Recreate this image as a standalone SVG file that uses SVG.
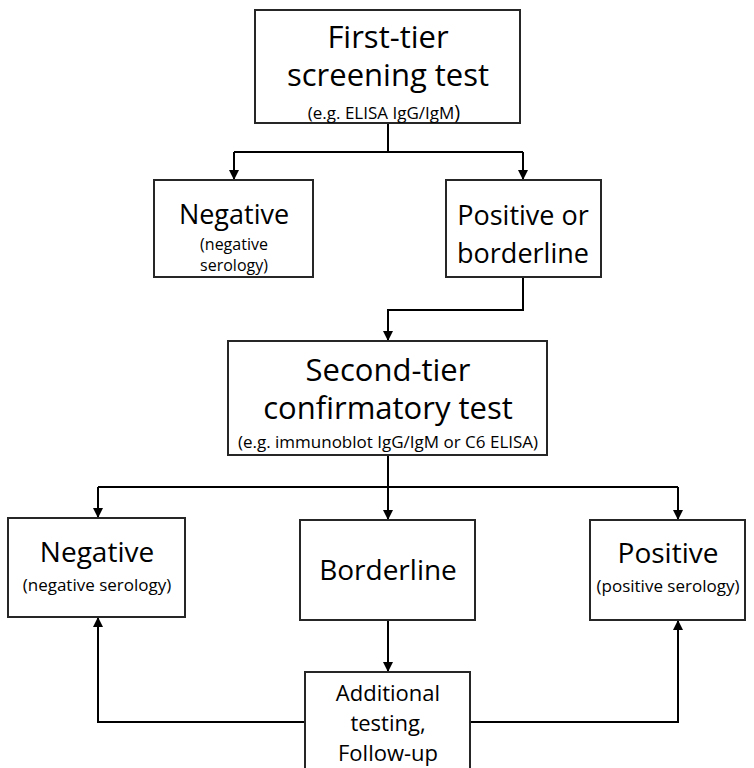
<svg xmlns="http://www.w3.org/2000/svg" width="754" height="768" viewBox="0 0 754 768">
<style>
.box{fill:#fff;stroke:#262626;stroke-width:2}
.t{font-family:"Open Sans","Noto Sans",sans-serif;fill:#000;text-anchor:middle}
.c{fill:none;stroke:#000;stroke-width:2}
</style>
<defs>
<marker id="ah" viewBox="0 0 10 10" refX="10" refY="5" markerWidth="5" markerHeight="5" orient="auto" markerUnits="strokeWidth">
<path d="M0,0 L10,5 L0,10 z" fill="#000"/>
</marker>
</defs>
<rect width="754" height="768" fill="#fff"/>
<g id="connectors">
<path class="c" d="M388,123 V152"/>
<path class="c" d="M234,152 H523"/>
<path class="c" d="M234,152 V180" marker-end="url(#ah)"/>
<path class="c" d="M523,152 V180" marker-end="url(#ah)"/>
<path class="c" d="M523,277 V310 H388 V341" marker-end="url(#ah)"/>
<path class="c" d="M388,455 V487"/>
<path class="c" d="M98,487 H678"/>
<path class="c" d="M98,487 V518" marker-end="url(#ah)"/>
<path class="c" d="M388,487 V520" marker-end="url(#ah)"/>
<path class="c" d="M678,487 V520" marker-end="url(#ah)"/>
<path class="c" d="M388,620 V672" marker-end="url(#ah)"/>
<path class="c" d="M305,722 H98 V617" marker-end="url(#ah)"/>
<path class="c" d="M470,722 H678 V620" marker-end="url(#ah)"/>
</g>
<g id="first-tier">
<rect class="box" x="255" y="10" width="265" height="113"/>
<text class="t" x="388" y="48" font-size="31">First-tier</text>
<text class="t" x="388" y="86" font-size="31">screening test</text>
<text class="t" x="384" y="119" font-size="17">(e.g. ELISA IgG/IgM<tspan font-size="20">)</tspan></text>
</g>
<g id="negative-1">
<rect class="box" x="154" y="180" width="159" height="97"/>
<text class="t" x="234" y="224" font-size="27">Negative</text>
<text class="t" x="234" y="250" font-size="16">(negative</text>
<text class="t" x="234" y="271" font-size="16">serology)</text>
</g>
<g id="positive-borderline">
<rect class="box" x="446" y="180" width="155" height="97"/>
<text class="t" x="523" y="225" font-size="27">Positive or</text>
<text class="t" x="523" y="263" font-size="27">borderline</text>
</g>
<g id="second-tier">
<rect class="box" x="228" y="341" width="319" height="114"/>
<text class="t" x="388" y="381" font-size="31">Second-tier</text>
<text class="t" x="388" y="419" font-size="31">confirmatory test</text>
<text class="t" x="388" y="448" font-size="17">(e.g. immunoblot IgG/IgM or C6 ELISA)</text>
</g>
<g id="negative-2">
<rect class="box" x="8" y="518" width="177" height="99"/>
<text class="t" x="97" y="562" font-size="28">Negative</text>
<text class="t" x="97" y="591" font-size="17">(negative serology)</text>
</g>
<g id="borderline">
<rect class="box" x="300" y="520" width="175" height="100"/>
<text class="t" x="388" y="580" font-size="28">Borderline</text>
</g>
<g id="positive-2">
<rect class="box" x="590" y="520" width="155" height="100"/>
<text class="t" x="668" y="563" font-size="28">Positive</text>
<text class="t" x="668" y="592" font-size="17">(positive serology)</text>
</g>
<g id="additional">
<rect class="box" x="305" y="672" width="165" height="100"/>
<text class="t" x="388" y="701" font-size="22">Additional</text>
<text class="t" x="388" y="731" font-size="22">testing,</text>
<text class="t" x="388" y="761" font-size="22">Follow-up</text>
</g>
</svg>
